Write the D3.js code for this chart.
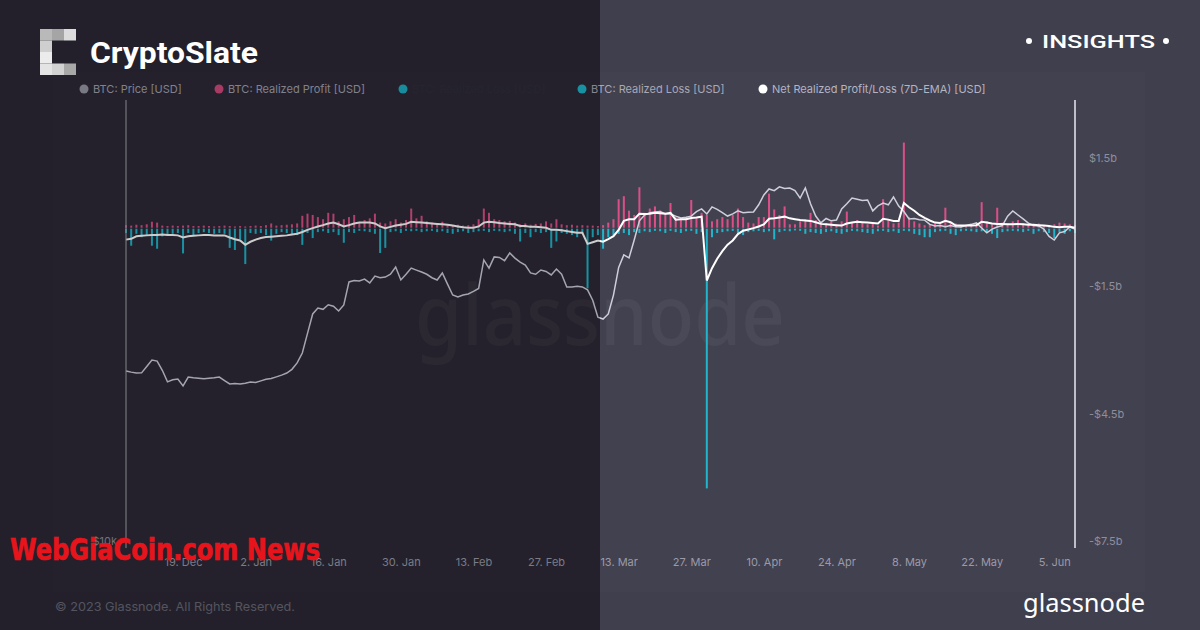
<!DOCTYPE html>
<html><head><meta charset="utf-8">
<script src="https://cdn.jsdelivr.net/npm/d3@7"></script>
<style>html,body{margin:0;padding:0;background:#403f4d;} svg{display:block}</style>
</head><body>
<svg id="c" width="1200" height="630"></svg>
<script>
// ---------- DATA ----------
const startDate = "2022-12-08";
const endDate = "2023-06-09";
const xTickDates = ["2022-12-19","2023-01-02","2023-01-16","2023-01-30","2023-02-13","2023-02-27","2023-03-13","2023-03-27","2023-04-10","2023-04-24","2023-05-08","2023-05-22","2023-06-05"];
const xTickLabels = ["19. Dec","2. Jan","16. Jan","30. Jan","13. Feb","27. Feb","13. Mar","27. Mar","10. Apr","24. Apr","8. May","22. May","5. Jun"];
const yTickValues = [1.5, -1.5, -4.5, -7.5];
const yTickLabels = ["$1.5b", "-$1.5b", "-$4.5b", "-$7.5b"];
const priceTickValues = [10000];
const priceTickLabels = ["$10k"];
const legendNames = ["BTC: Price [USD]", "BTC: Realized Profit [USD]", "BTC: Realized Loss [USD]", "BTC: Realized Loss [USD]", "Net Realized Profit/Loss (7D-EMA) [USD]"];

// BTC price, thousands USD, daily from 8 Dec 2022
const priceK = [
17.26,17.2,17.15,17.16,17.5,17.86,17.8,17.3,16.69,16.8,
16.84,16.48,16.94,16.9,16.88,16.85,16.88,16.9,16.94,16.75,
16.58,16.6,16.58,16.62,16.68,16.66,16.74,16.82,16.86,16.95,
17.04,17.15,17.35,17.7,18.25,19.4,20.6,20.98,20.9,21.2,
21.1,20.79,21.18,22.75,22.85,22.82,22.95,22.68,23.17,23.05,
23.1,23.3,23.83,22.89,23.3,23.75,23.6,23.46,23.3,23.05,
22.89,23.39,22.6,21.85,21.71,21.85,21.92,22.1,22.3,24.36,
23.75,24.59,24.55,24.3,24.89,24.5,24.2,23.98,23.4,23.3,
23.61,23.5,23.25,23.68,23.3,22.4,22.4,22.45,22.4,22.2,
21.5,20.4,20.28,20.6,21.84,23.8,24.74,24.51,25.91,27.5,
28.0,28.2,28.27,28.3,28.1,28.09,27.9,27.75,27.8,27.9,
28.3,28.54,28.09,28.71,28.5,28.2,27.91,28.1,28.36,28.2,
28.25,28.27,28.9,29.8,30.36,30.2,30.55,30.4,30.45,30.2,
29.51,30.45,29.0,27.91,27.32,27.7,27.5,27.56,28.54,29.0,
29.51,29.4,29.3,29.33,28.36,28.8,29.05,28.9,29.61,28.79,
28.3,27.66,27.7,27.6,27.56,27.2,27.07,27.1,27.0,27.1,
27.0,26.98,27.1,27.2,27.32,26.9,26.49,26.8,26.98,27.1,
27.9,28.36,28.0,27.66,27.3,27.1,27.07,26.8,26.2,25.91,
26.49,26.6,26.98,26.8];

// Realized profit, billions USD
const realizedProfitB = [
0.06,0.05,0.07,0.06,0.08,0.14,0.12,0.05,0.04,0.05,
0.04,0.05,0.06,0.04,0.04,0.05,0.04,0.03,0.04,0.05,
0.04,0.03,0.04,0.03,0.04,0.05,0.04,0.06,0.1,0.05,
0.06,0.07,0.08,0.1,0.28,0.33,0.3,0.25,0.2,0.35,
0.33,0.15,0.2,0.25,0.3,0.12,0.18,0.22,0.33,0.12,
0.1,0.15,0.2,0.12,0.18,0.45,0.22,0.28,0.15,0.12,
0.1,0.14,0.08,0.06,0.07,0.05,0.06,0.08,0.2,0.45,
0.35,0.2,0.18,0.15,0.16,0.12,0.08,0.1,0.07,0.09,
0.1,0.15,0.1,0.2,0.08,0.06,0.07,0.05,0.06,0.05,
0.05,0.04,0.06,0.12,0.2,0.67,0.74,0.4,0.3,0.95,
0.35,0.45,0.5,0.4,0.35,0.58,0.25,0.2,0.25,0.65,
0.25,0.35,0.3,0.15,0.2,0.25,0.2,0.3,0.45,0.25,
0.12,0.1,0.25,0.25,0.8,0.43,0.3,0.5,0.08,0.08,
0.15,0.2,0.35,0.18,0.08,0.1,0.15,0.08,0.15,0.38,
0.12,0.18,0.12,0.08,0.1,0.05,0.67,0.2,0.1,0.12,
2.0,0.25,0.15,0.1,0.06,0.08,0.1,0.08,0.47,0.12,
0.1,0.06,0.05,0.06,0.08,0.6,0.15,0.08,0.47,0.12,
0.1,0.15,0.18,0.1,0.06,0.08,0.1,0.06,0.05,0.08,
0.12,0.1,0.08,0.06];

// Realized loss, billions USD (negative)
const realizedLossB = [
-0.1,-0.4,-0.12,-0.2,-0.15,-0.4,-0.47,-0.18,-0.15,-0.12,
-0.1,-0.58,-0.1,-0.15,-0.1,-0.08,-0.1,-0.12,-0.1,-0.12,
-0.45,-0.5,-0.25,-0.83,-0.1,-0.12,-0.1,-0.15,-0.28,-0.12,
-0.08,-0.1,-0.12,-0.15,-0.38,-0.1,-0.22,-0.08,-0.06,-0.1,
-0.08,-0.15,-0.33,-0.08,-0.1,-0.05,-0.06,-0.08,-0.12,-0.57,
-0.45,-0.08,-0.06,-0.1,-0.05,-0.06,-0.05,-0.08,-0.06,-0.05,
-0.08,-0.06,-0.1,-0.12,-0.08,-0.06,-0.1,-0.08,-0.06,-0.05,
-0.08,-0.05,-0.06,-0.08,-0.06,-0.12,-0.3,-0.1,-0.2,-0.08,
-0.1,-0.08,-0.45,-0.3,-0.1,-0.12,-0.15,-0.2,-0.12,-1.4,
-0.2,-0.15,-0.47,-0.2,-0.15,-0.12,-0.1,-0.15,-0.08,-0.1,
-0.06,-0.08,-0.05,-0.06,-0.1,-0.05,-0.08,-0.1,-0.06,-0.05,
-0.12,-0.08,-6.1,-0.2,-0.1,-0.08,-0.06,-0.05,-0.1,-0.15,
-0.08,-0.06,-0.05,-0.08,-0.06,-0.25,-0.08,-0.05,-0.06,-0.04,
-0.05,-0.12,-0.08,-0.1,-0.12,-0.08,-0.06,-0.1,-0.12,-0.08,
-0.05,-0.06,-0.08,-0.1,-0.12,-0.06,-0.05,-0.08,-0.06,-0.1,
-0.05,-0.06,-0.12,-0.15,-0.2,-0.2,-0.08,-0.06,-0.05,-0.12,
-0.15,-0.06,-0.05,-0.06,-0.08,-0.06,-0.08,-0.12,-0.22,-0.08,
-0.06,-0.05,-0.06,-0.08,-0.05,-0.12,-0.06,-0.08,-0.1,-0.22,
-0.08,-0.12,-0.06,-0.1];

// Net realized P/L 7D-EMA, billions USD
const netEmaB = [
-0.28,-0.26,-0.2,-0.19,-0.18,-0.17,-0.17,-0.16,-0.17,-0.17,
-0.18,-0.23,-0.2,-0.19,-0.18,-0.17,-0.17,-0.18,-0.18,-0.18,
-0.23,-0.27,-0.3,-0.4,-0.33,-0.28,-0.24,-0.22,-0.21,-0.2,
-0.19,-0.18,-0.16,-0.14,-0.1,-0.05,-0.01,0.03,0.06,0.1,
0.12,0.08,0.03,0.06,0.1,0.12,0.12,0.12,0.1,0.03,
-0.01,0.02,0.05,0.07,0.09,0.14,0.13,0.12,0.11,0.1,
0.09,0.08,0.07,0.05,0.03,0.01,0,0,0.03,0.12,
0.14,0.13,0.11,0.1,0.09,0.08,0.04,0.04,0.02,0.02,
0.01,0,-0.05,-0.05,-0.06,-0.08,-0.1,-0.12,-0.12,-0.38,
-0.34,-0.3,-0.33,-0.27,-0.2,-0.05,0.16,0.2,0.2,0.33,
0.32,0.33,0.35,0.34,0.33,0.35,0.19,0.2,0.2,0.23,
0.24,0.26,-1.24,-0.95,-0.73,-0.55,-0.4,-0.3,-0.15,-0.07,
-0.04,-0.01,0.03,0.08,0.21,0.22,0.24,0.26,0.22,0.2,
0.18,0.17,0.16,0.13,0.09,0.08,0.07,0.06,0.05,0.1,
0.12,0.14,0.13,0.12,0.11,0.1,0.21,0.19,0.16,0.16,
0.58,0.48,0.4,0.3,0.23,0.17,0.12,0.11,0.16,0.13,
0.05,0.05,0.05,0.05,0.06,0.14,0.12,0.1,0.09,0.09,
0.08,0.08,0.09,0.08,0.07,0.07,0.06,0.05,0.04,0.02,
0.01,0.02,0.02,0.0];

// ---------- DRAW ----------
const svg = d3.select("#c");
const parse = d3.utcParse("%Y-%m-%d");
const t0 = parse(startDate);
const dates = priceK.map((_, i) => d3.utcDay.offset(t0, i));

const x = d3.scaleUtc().domain([t0, parse(endDate)]).range([126, 1075]);
const yB = d3.scaleLinear().domain([-7.5, 3]).range([547, 100]);
const yP = d3.scaleLog().domain([10000, 40000]).range([547, 100]);

// backgrounds
svg.append("rect").attr("width", 1200).attr("height", 630).attr("fill", "#403f4d");
svg.append("rect").attr("x", 53).attr("y", 72).attr("width", 1092).attr("height", 520).attr("fill", "#424150");
svg.append("rect").attr("width", 600).attr("height", 630).attr("fill", "#2c2936");
svg.append("rect").attr("x", 53).attr("y", 72).attr("width", 547).attr("height", 520).attr("fill", "#2d2a37");

// glassnode watermark
svg.append("text").attr("x", 600).attr("y", 345).attr("text-anchor", "middle")
  .attr("font-family", "Noto Sans").attr("font-size", 84).attr("font-weight", 500)
  .attr("textLength", 370).attr("lengthAdjust", "spacingAndGlyphs")
  .attr("fill", "#ffffff").attr("fill-opacity", 0.045).text("glassnode");

// bars
const bw = 2;
svg.append("g").selectAll("rect").data(realizedProfitB).join("rect")
  .attr("x", (d, i) => x(dates[i]) - bw / 2).attr("width", bw)
  .attr("y", d => yB(d)).attr("height", d => yB(0) - yB(d))
  .attr("fill", "#dc4f86");
svg.append("g").selectAll("rect").data(realizedLossB).join("rect")
  .attr("x", (d, i) => x(dates[i]) - bw / 2).attr("width", bw)
  .attr("y", yB(0) + 1).attr("height", d => yB(d) - yB(0))
  .attr("fill", "#1fb6cb");

// price line
svg.append("path").datum(priceK)
  .attr("d", d3.line().x((d, i) => x(dates[i])).y(d => yP(d * 1000)))
  .attr("fill", "none").attr("stroke", "#cfcfdc").attr("stroke-width", 1.5);

// EMA line
svg.append("path").datum(netEmaB)
  .attr("d", d3.line().x((d, i) => x(dates[i])).y(d => yB(d)))
  .attr("fill", "none").attr("stroke", "#ffffff").attr("stroke-width", 2);

// axis lines
svg.append("line").attr("x1", 126).attr("x2", 126).attr("y1", 100).attr("y2", 548)
  .attr("stroke", "#a5a5b0").attr("stroke-width", 1);
svg.append("line").attr("x1", 1075).attr("x2", 1075).attr("y1", 100).attr("y2", 548)
  .attr("stroke", "#e8e8f0").attr("stroke-width", 1.5);

// x axis
const gx = svg.append("g").attr("transform", "translate(0,548)")
  .call(d3.axisBottom(x).tickValues(xTickDates.map(parse)).tickFormat((d, i) => xTickLabels[i]).tickSize(0).tickPadding(10));
gx.select(".domain").remove();
gx.selectAll("text").attr("fill", "#9a9aa8").attr("font-family", "Inter").attr("font-size", 11);

// right axis
const gy = svg.append("g").attr("transform", "translate(1075,0)")
  .call(d3.axisRight(yB).tickValues(yTickValues).tickFormat((d, i) => yTickLabels[i]).tickSize(0).tickPadding(14));
gy.select(".domain").remove();
gy.selectAll("text").attr("fill", "#8e8e9c").attr("font-family", "Inter").attr("font-size", 11).attr("dy", "-0.2em");

// left axis
const gp = svg.append("g").attr("transform", "translate(126,0)")
  .call(d3.axisLeft(yP).tickValues(priceTickValues).tickFormat((d, i) => priceTickLabels[i]).tickSize(0).tickPadding(9));
gp.select(".domain").remove();
gp.selectAll("text").attr("fill", "#8e8e9c").attr("font-family", "Inter").attr("font-size", 11).attr("dy", "-0.2em");

// legend
const legendX = [84, 219, 403, 582, 763];
const legendDot = ["#9898a4", "#d24a7c", "#1fb0c4", "#1fb6cb", "#ffffff"];
const legendText = ["#a2a2b0", "#a2a2b0", "#302e3b", "#a8a8b6", "#b4b4c2"];
const lg = svg.append("g").selectAll("g").data(legendNames).join("g")
  .attr("transform", (d, i) => `translate(${legendX[i]},89)`);
lg.append("circle").attr("r", 4.5).attr("fill", (d, i) => legendDot[i]);
lg.append("text").attr("x", 9).attr("y", 4).attr("font-family", "Inter").attr("font-size", 11)
  .attr("fill", (d, i) => legendText[i]).text(d => d);

// footer
svg.append("text").attr("x", 55).attr("y", 611).attr("font-family", "Inter").attr("font-size", 12)
  .attr("fill", "#6a6978").attr("textLength", 240).attr("lengthAdjust", "spacingAndGlyphs")
  .text("© 2023 Glassnode. All Rights Reserved.");
svg.append("text").attr("x", 1023).attr("y", 612).attr("font-family", "Noto Sans").attr("font-size", 25)
  .attr("fill", "#ffffff").attr("textLength", 122).attr("lengthAdjust", "spacingAndGlyphs").text("glassnode");

// left dim overlay
svg.append("rect").attr("width", 600).attr("height", 630).attr("fill", "#000").attr("fill-opacity", 0.2);

// CryptoSlate logo
const logoCells = [[0,0,"#b9b9b9"],[1,0,"#a5a5a5"],[2,0,"#dcdcdc"],[0,1,"#cfcfcf"],[0,2,"#ececec"],[0,3,"#e4e4e4"],[1,3,"#d2d2d2"],[2,3,"#a8a8a8"]];
svg.append("g").selectAll("rect").data(logoCells).join("rect")
  .attr("x", d => 40 + d[0] * 12).attr("y", d => 29 + d[1] * 11.5)
  .attr("width", 12).attr("height", 11.5).attr("fill", d => d[2]);
svg.append("text").attr("x", 90).attr("y", 63).attr("font-family", "Roboto").attr("font-weight", 700)
  .attr("font-size", 29).attr("fill", "#ffffff").attr("textLength", 168).attr("lengthAdjust", "spacingAndGlyphs")
  .text("CryptoSlate");

// INSIGHTS
svg.append("circle").attr("cx", 1029).attr("cy", 41).attr("r", 3).attr("fill", "#fff");
svg.append("circle").attr("cx", 1166).attr("cy", 41).attr("r", 3).attr("fill", "#fff");
svg.append("text").attr("x", 1042).attr("y", 48).attr("font-family", "Roboto").attr("font-weight", 500)
  .attr("font-size", 19).attr("fill", "#ffffff").attr("textLength", 113).attr("lengthAdjust", "spacingAndGlyphs")
  .text("INSIGHTS");

// red watermark
svg.append("text").attr("x", 10).attr("y", 560).attr("font-family", "Liberation Sans Narrow, DejaVu Sans Condensed, sans-serif")
  .attr("font-weight", 700).attr("font-size", 30).attr("fill", "#e8141c")
  .attr("stroke", "#e8141c").attr("stroke-width", 0.6)
  .attr("textLength", 310).attr("lengthAdjust", "spacingAndGlyphs").text("WebGiaCoin.com News");
</script>
</body></html>
